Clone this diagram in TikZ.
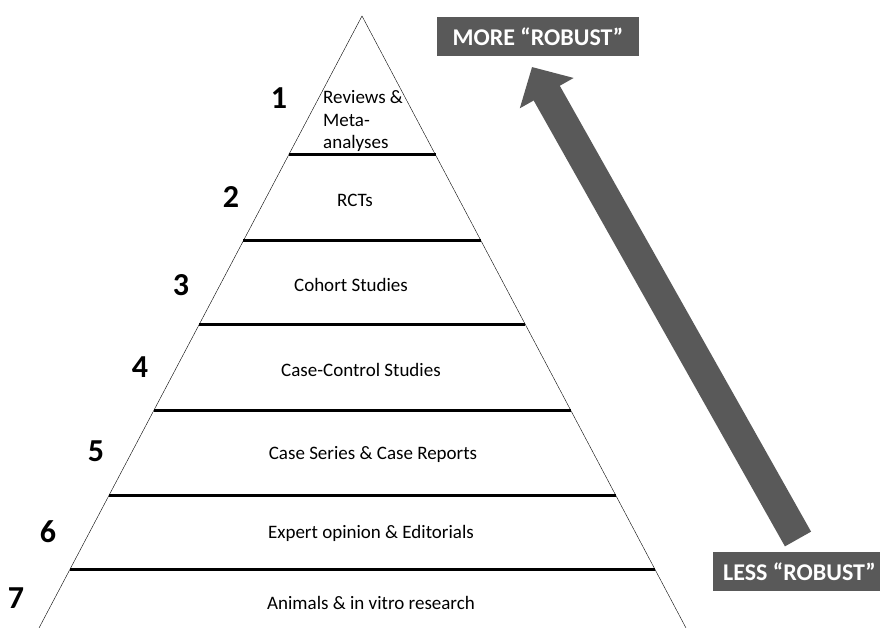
\documentclass[tikz,border=0pt]{standalone}
\usepackage{fontspec}
\setmainfont{Carlito}
\usetikzlibrary{calc,arrows.meta}
\definecolor{boxgray}{RGB}{89,89,89}
\begin{document}
\begin{tikzpicture}[x=1pt,y=-1pt,
	tier/.style = {font=\fontsize{19}{23}\selectfont, anchor=base, inner sep=0},
	rank/.style = {font=\fontsize{32}{36}\selectfont\bfseries, anchor=base, inner sep=0},
	border/.style = {line width=3pt},
	tag/.style = {fill=boxgray, text=white, font=\fontsize{24}{28}\selectfont\bfseries, minimum height=39pt, inner xsep=10pt}]
	\useasboundingbox (0,0) rectangle (880,628);
	\coordinate (top) at (362,16);
	\coordinate (bl) at (39,628);
	\coordinate (br) at (686,628);
	\draw (bl) -- (top) -- (br);
	\draw[border] ($(top)!0.2271!(bl)$) -- ($(top)!0.2271!(br)$);
	\draw[border] ($(top)!0.3676!(bl)$) -- ($(top)!0.3676!(br)$);
	\draw[border] ($(top)!0.5033!(bl)$) -- ($(top)!0.5033!(br)$);
	\draw[border] ($(top)!0.6438!(bl)$) -- ($(top)!0.6438!(br)$);
	\draw[border] ($(top)!0.7827!(bl)$) -- ($(top)!0.7827!(br)$);
	\draw[border] ($(top)!0.9036!(bl)$) -- ($(top)!0.9036!(br)$);
	\node[tier, anchor=west, align=left, font=\fontsize{19}{22.5}\selectfont] (t1) at (323,121) {Reviews \&\\Meta-\\analyses};
	\node[tier] (t2) at (355,207) {RCTs};
	\node[tier] (t3) at (351,291) {Cohort Studies};
	\node[tier] (t4) at (361,376) {Case-Control Studies};
	\node[tier] (t5) at (373,459) {Case Series \& Case Reports};
	\node[tier] (t6) at (371,538) {Expert opinion \& Editorials};
	\node[tier] (t7) at (371,609) {Animals \& in vitro research};
	\node[rank] (r1) at (279,109) {1};
	\node[rank] (r2) at (231,208) {2};
	\node[rank] (r3) at (181,295) {3};
	\node[rank] (r4) at (140,377) {4};
	\node[rank] (r5) at (96,461) {5};
	\node[rank] (r6) at (48,542) {6};
	\node[rank] (r7) at (16,608) {7};
	\node[tag, minimum width=202pt] (more) at (538,36.5) {MORE “ROBUST”};
	\node[tag, minimum width=170pt, anchor=west] (less) at (713,571.5) {LESS “ROBUST”};
	\coordinate (lo) at (798,539);
	\coordinate (hi) at (532,67);
	\draw[boxgray, line width=30pt, -{Triangle[width=60pt,length=30pt]}] (lo) -- (hi);
\end{tikzpicture}
\end{document}
